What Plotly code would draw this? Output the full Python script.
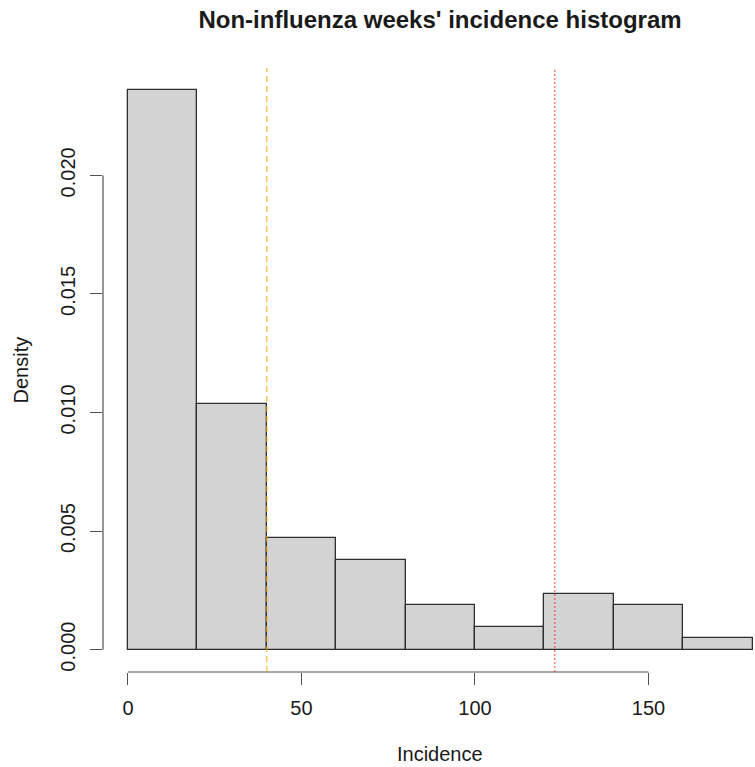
import plotly.graph_objects as go

# Histogram of weekly incidence outside influenza season (R-style density histogram)
bin_edges = [0, 20, 40, 60, 80, 100, 120, 140, 160, 180]
bin_counts = [50, 22, 10, 8, 4, 2, 5, 4, 1]
x_tick_vals = [0, 50, 100, 150]
x_tick_text = ["0", "50", "100", "150"]
y_tick_vals = [0.000, 0.005, 0.010, 0.015, 0.020]
y_tick_text = ["0.000", "0.005", "0.010", "0.015", "0.020"]
threshold_low = 40      # orange dashed reference line
threshold_high = 123    # red dotted reference line

n_total = sum(bin_counts)
widths = [b - a for a, b in zip(bin_edges[:-1], bin_edges[1:])]
centers = [(a + b) / 2 for a, b in zip(bin_edges[:-1], bin_edges[1:])]
density = [c / (n_total * w) for c, w in zip(bin_counts, widths)]

FONT = "Liberation Sans, Arial, Helvetica, sans-serif"
TEXT = "#1a1a1a"
AXIS = "#505050"

W, H = 755, 767
L, R, T, B = 103, 0, 68, 95

x_lo, x_hi = -7.2, 180.7
ymax = max(density)
y_lo, y_hi = -0.04 * ymax, ymax * 1.04

fig = go.Figure()
fig.add_trace(go.Bar(
    x=centers, y=density, width=widths,
    marker=dict(color="#d3d3d3", line=dict(color="#2e2e2e", width=1.3)),
    hoverinfo="skip", showlegend=False,
))

shapes = [
    # x axis line spans first to last tick
    dict(type="line", xref="x", yref="paper", x0=x_tick_vals[0], x1=x_tick_vals[-1],
         y0=0, y1=0, line=dict(color=AXIS, width=1.2)),
    # y axis line spans first to last tick
    dict(type="line", xref="paper", yref="y", x0=0, x1=0,
         y0=y_tick_vals[0], y1=y_tick_vals[-1], line=dict(color=AXIS, width=1.2)),
    dict(type="line", xref="x", yref="paper", x0=threshold_low, x1=threshold_low,
         y0=0, y1=1, line=dict(color="rgba(255,165,0,0.75)", width=1.3, dash="6px,4px")),
    dict(type="line", xref="x", yref="paper", x0=threshold_high, x1=threshold_high,
         y0=0, y1=1, line=dict(color="rgba(255,40,40,0.7)", width=1.3, dash="2px,2px")),
]

pw = W - L - R
ph = H - T - B

annotations = [
    dict(text="Density", xref="paper", yref="paper",
         x=(20.5 - L) / pw, y=(H - B - 370) / ph, textangle=-90,
         xanchor="center", yanchor="middle", showarrow=False,
         font=dict(family=FONT, size=20, color=TEXT)),
    dict(text="Incidence", xref="paper", yref="paper",
         x=(440 - L) / pw, y=(H - B - 754) / ph,
         xanchor="center", yanchor="middle", showarrow=False,
         font=dict(family=FONT, size=20, color=TEXT)),
]

fig.update_layout(
    width=W, height=H,
    margin=dict(l=L, r=R, t=T, b=B, pad=0),
    paper_bgcolor="white", plot_bgcolor="white",
    bargap=0,
    title=dict(text="Non-influenza weeks' incidence histogram",
               xref="container", x=440 / W, xanchor="center",
               yref="container", y=1 - 20 / H, yanchor="middle",
               font=dict(family=FONT, size=24, color=TEXT, weight="bold")),
    xaxis=dict(range=[x_lo, x_hi], showgrid=False, zeroline=False, showline=False,
               tickmode="array", tickvals=x_tick_vals, ticktext=x_tick_text,
               ticks="outside", ticklen=12, tickwidth=1.2, tickcolor=AXIS,
               ticklabelstandoff=6,
               tickfont=dict(family=FONT, size=20, color=TEXT)),
    yaxis=dict(range=[y_lo, y_hi], showgrid=False, zeroline=False, showline=False,
               tickmode="array", tickvals=y_tick_vals, ticktext=y_tick_text,
               ticks="outside", ticklen=12, tickwidth=1.2, tickcolor=AXIS,
               tickangle=-90, ticklabelstandoff=7,
               tickfont=dict(family=FONT, size=20, color=TEXT)),
    shapes=shapes,
    annotations=annotations,
)

fig.write_html("out.html")
